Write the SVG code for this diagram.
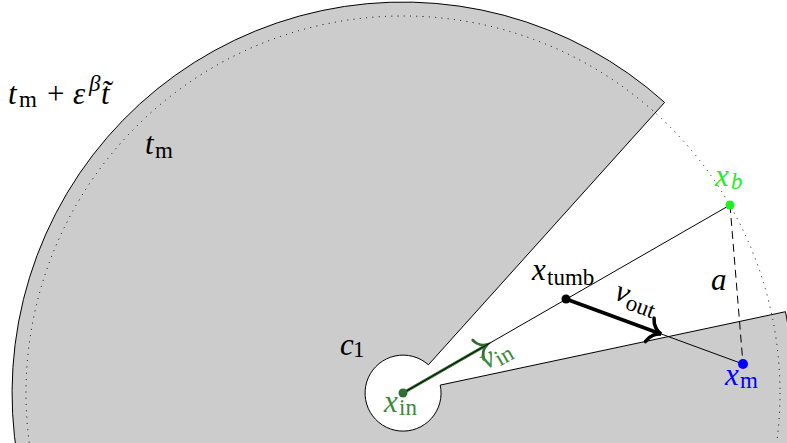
<svg xmlns="http://www.w3.org/2000/svg" width="787" height="443" viewBox="0 0 787 443">
<style>
text{font-family:'Liberation Serif','DejaVu Serif',serif;font-size:31px;fill:#000}
.it{font-style:italic}
.sub{font-size:23px;font-style:normal}
.thin{stroke:#000;stroke-width:1;fill:none}
</style>
<defs>
<marker id="arrK" markerUnits="userSpaceOnUse" viewBox="-16 -16 20 32" markerWidth="20" markerHeight="32" refX="0" refY="0" orient="auto" overflow="visible">
<path d="M-12,-12.5 C-10,-5 -4,-1 0,0 C-4,1 -10,5 -12,12.5" fill="none" stroke="#000" stroke-width="3.5" stroke-linecap="round"/>
</marker>
<marker id="arrG" markerUnits="userSpaceOnUse" viewBox="-16 -16 20 32" markerWidth="20" markerHeight="32" refX="0" refY="0" orient="auto" overflow="visible">
<path d="M-10,-11 C-8.5,-4.5 -3.5,-1 0,0 C-3.5,1 -8.5,4.5 -10,11" fill="none" stroke="#2f6f2f" stroke-width="3" stroke-linecap="round"/>
</marker>
</defs>
<g id="region">
<path d="M428.4,364.8 L664.6,102.4 A391,391 0 1 0 785.5,311.7 L440.2,385.1 A38,38 0 1 1 428.4,364.8 Z" fill="#cccccc" stroke="#000" stroke-width="1"/>
</g>
<g id="dotted-circle">
<circle cx="403" cy="393" r="377" fill="none" stroke="#000" stroke-width="1" stroke-dasharray="1 5.3"/>
</g>
<g id="connectors">
<line x1="403" y1="393" x2="487" y2="344.7" stroke="#2f6f2f" stroke-width="3" marker-end="url(#arrG)"/>
<line x1="403" y1="393" x2="730" y2="205" class="thin"/>
<line x1="566" y1="299" x2="743" y2="364" class="thin"/>
<line x1="566" y1="299" x2="661" y2="334" stroke="#000" stroke-width="3.5" marker-end="url(#arrK)"/>
<line x1="730" y1="205" x2="743" y2="364" stroke="#000" stroke-width="1" stroke-dasharray="8 5"/>
</g>
<g id="x_in">
<circle cx="403" cy="393" r="4.5" fill="#2f6f2f"/>
<text style="fill:#3a8a3a" y="412"><tspan class="it" x="384">x</tspan><tspan class="sub" x="399" dy="3">in</tspan></text>
</g>
<g id="v_in">
<text style="fill:#3a8a3a" x="486" y="370" transform="rotate(-30 486 370)"><tspan class="it">v</tspan><tspan class="sub" dy="4">in</tspan></text>
</g>
<g id="x_tumb">
<circle cx="566" cy="299" r="4.5" fill="#000"/>
<text y="280"><tspan class="it" x="532">x</tspan><tspan class="sub" x="547" dy="5">tumb</tspan></text>
</g>
<g id="v_out">
<text x="613" y="299" transform="rotate(20 613 299)"><tspan class="it">v</tspan><tspan class="sub" dy="5">out</tspan></text>
</g>
<g id="x_b">
<circle cx="730" cy="205" r="4.5" fill="#22ee22"/>
<text style="fill:#22ee22" y="186"><tspan class="it" x="715">x</tspan><tspan class="it" style="font-size:23px" x="731" dy="3">b</tspan></text>
</g>
<g id="x_m">
<circle cx="743" cy="364" r="5" fill="#0000ff"/>
<text style="fill:#0000ff" y="385"><tspan class="it" x="725">x</tspan><tspan class="sub" x="740" dy="3">m</tspan></text>
</g>
<g id="a">
<text class="it" x="711" y="290">a</text>
</g>
<g id="c1">
<text y="355"><tspan class="it" x="340">c</tspan><tspan class="sub" x="353" dy="2">1</tspan></text>
</g>
<g id="t_m">
<text y="154"><tspan class="it" x="145">t</tspan><tspan class="sub" x="155" dy="4">m</tspan></text>
</g>
<g id="t_label">
<text y="104"><tspan class="it" x="8">t</tspan><tspan class="sub" x="19" dy="3">m</tspan><tspan x="47" dy="-3">+</tspan><tspan class="it" x="73">ε</tspan><tspan class="it" style="font-size:23px" x="89" dy="-13">β</tspan><tspan class="it" x="101" dy="13">t̃</tspan></text>
</g>
</svg>
